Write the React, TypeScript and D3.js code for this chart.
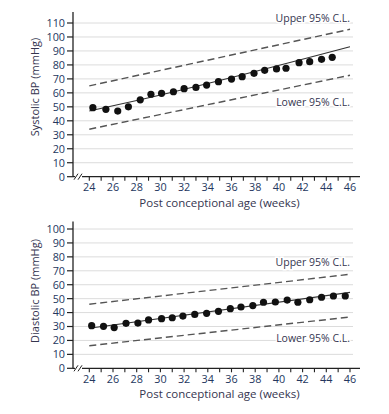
import React from "react";
import * as d3 from "d3";

// Systolic data
const sysWeeks = [24.3, 25.4, 26.4, 27.3, 28.3, 29.2, 30.1, 31.1, 32, 33.0, 33.9, 34.9, 36.0, 36.9, 37.9, 38.8, 39.8, 40.6, 41.7, 42.6, 43.6, 44.5];
const sysValues = [49.4, 48.2, 47, 50, 55, 59, 59.7, 60.8, 63, 63.9, 65.6, 68, 69.9, 71.6, 74, 76.1, 77.1, 77.6, 81.6, 82.3, 84, 85.4];
const sysFitWeeks = [24, 28, 46];
const sysFit = [47, 54.5, 93];
const sysUpper = [65, 105.5];
const sysLower = [34, 72.6];

// Diastolic data
const diaWeeks = [24.2, 25.2, 26.1, 27.1, 28.1, 29, 30.1, 31, 31.9, 32.9, 33.9, 34.9, 35.9, 36.8, 37.8, 38.7, 39.7, 40.7, 41.6, 42.6, 43.6, 44.6, 45.6];
const diaValues = [30.6, 30.1, 29.2, 32.3, 32.5, 34.7, 35.6, 36.3, 37.5, 38.7, 39.5, 40.9, 42.8, 44, 45, 47.4, 47.6, 49, 47.4, 49.2, 51, 51.9, 51.9];
const diaFitWeeks = [24, 46];
const diaFit = [28.7, 54.5];
const diaUpper = [46, 67.5];
const diaLower = [16.2, 36.8];

const clWeeks = [24, 46];
const xTickLabels = [24, 26, 28, 30, 32, 34, 36, 38, 40, 42, 44, 46];
const xMinorTicks = d3.range(24, 47, 1);

const FONT = "'Open Sans', 'Noto Sans', sans-serif";
const TICK_COLOR = "#24375e";
const TITLE_COLOR = "#35354f";

type PanelProps = {
  yMax: number;
  yBottom: number;
  yTopTick: number;
  axisTop: number;
  weeks: number[];
  values: number[];
  fitWeeks: number[];
  fit: number[];
  upper: number[];
  lower: number[];
  yLabel: string;
  upperLabelY: number;
  lowerLabelY: number;
  titleCenterY: number;
};

const x = d3.scaleLinear().domain([24, 46]).range([89.3, 350]);
const axisX = 73;

function Panel(p: PanelProps) {
  const y = d3.scaleLinear().domain([0, p.yMax]).range([p.yBottom, p.yTopTick]);
  const yTicks = d3.range(0, p.yMax + 1, 10);
  const line = d3.line<[number, number]>().x((d) => x(d[0])).y((d) => y(d[1]));
  const fitPts = p.fitWeeks.map((w, i) => [w, p.fit[i]] as [number, number]);
  const upPts = clWeeks.map((w, i) => [w, p.upper[i]] as [number, number]);
  const loPts = clWeeks.map((w, i) => [w, p.lower[i]] as [number, number]);
  const base = p.yBottom;
  return (
    <g>
      {yTicks.filter((t) => t > 0).map((t) => (
        <line key={"g" + t} x1={axisX} x2={353} y1={y(t)} y2={y(t)} stroke="#dcdcdc" strokeWidth={1} />
      ))}
      <text x={350} y={p.upperLabelY} textAnchor="end" fontFamily={FONT} fontSize={10.5} fill={TITLE_COLOR} stroke="#fff" strokeWidth={3} paintOrder="stroke">
        Upper 95% C.L.
      </text>
      <text x={350} y={p.lowerLabelY} textAnchor="end" fontFamily={FONT} fontSize={10.5} fill={TITLE_COLOR} stroke="#fff" strokeWidth={3} paintOrder="stroke">
        Lower 95% C.L.
      </text>
      <path d={line(upPts) || ""} fill="none" stroke="#555" strokeWidth={1.4} strokeDasharray="7,4" />
      <path d={line(loPts) || ""} fill="none" stroke="#555" strokeWidth={1.4} strokeDasharray="7,4" />
      <path d={d3.line<[number, number]>().x((d) => x(d[0])).y((d) => y(d[1])).curve(d3.curveMonotoneX)(fitPts) || ""} fill="none" stroke="#333" strokeWidth={1.1} />
      {p.weeks.map((w, i) => (
        <circle key={"d" + i} cx={x(w)} cy={y(p.values[i])} r={3.6} fill="#111" />
      ))}
      <line x1={axisX} x2={axisX} y1={p.axisTop} y2={base} stroke="#222" strokeWidth={1.3} />
      {yTicks.map((t) => (
        <g key={"y" + t}>
          <line x1={axisX - 6} x2={axisX} y1={y(t)} y2={y(t)} stroke="#222" strokeWidth={1.2} />
          <text x={axisX - 8} y={y(t)} dy="0.36em" textAnchor="end" fontFamily={FONT} fontSize={10.8} fill={TICK_COLOR}>
            {t}
          </text>
        </g>
      ))}
      <line x1={axisX} x2={360} y1={base} y2={base} stroke="#222" strokeWidth={1.3} />
      {xMinorTicks.map((t) => (
        <line key={"xt" + t} x1={x(t)} x2={x(t)} y1={base} y2={base + 4} stroke="#222" strokeWidth={1.1} />
      ))}
      {xTickLabels.map((t) => (
        <text key={"xl" + t} x={x(t)} y={base + 14.4} textAnchor="middle" fontFamily={FONT} fontSize={10.8} fill={TICK_COLOR}>
          {t}
        </text>
      ))}
      <rect x={75} y={base - 1.5} width={7} height={3} fill="#fff" />
      <line x1={74} x2={78} y1={base + 3} y2={base - 3} stroke="#222" strokeWidth={1} />
      <line x1={78} x2={82} y1={base + 3} y2={base - 3} stroke="#222" strokeWidth={1} />
      <text x={(axisX + 360) / 2 + 3} y={base + 30} textAnchor="middle" fontFamily={FONT} fontSize={11.5} fill={TITLE_COLOR}>
        Post conceptional age (weeks)
      </text>
      <text transform={`translate(38.5,${p.titleCenterY}) rotate(-90)`} textAnchor="middle" fontFamily={FONT} fontSize={11} fill={TITLE_COLOR}>
        {p.yLabel}
      </text>
    </g>
  );
}

export default function App() {
  return (
    <svg width={389} height={414} style={{ position: "absolute", left: 0, top: 0, background: "#fff" }}>
      <rect width={389} height={414} fill="#fff" />
      <Panel
        yMax={110}
        yBottom={176.7}
        yTopTick={23}
        axisTop={12}
        weeks={sysWeeks}
        values={sysValues}
        fitWeeks={sysFitWeeks}
        fit={sysFit}
        upper={sysUpper}
        lower={sysLower}
        yLabel="Systolic BP (mmHg)"
        upperLabelY={21.5}
        lowerLabelY={106}
        titleCenterY={87}
      />
      <Panel
        yMax={100}
        yBottom={368.3}
        yTopTick={229}
        axisTop={221.5}
        weeks={diaWeeks}
        values={diaValues}
        fitWeeks={diaFitWeeks}
        fit={diaFit}
        upper={diaUpper}
        lower={diaLower}
        yLabel="Diastolic BP (mmHg)"
        upperLabelY={266}
        lowerLabelY={341.5}
        titleCenterY={291}
      />
    </svg>
  );
}
